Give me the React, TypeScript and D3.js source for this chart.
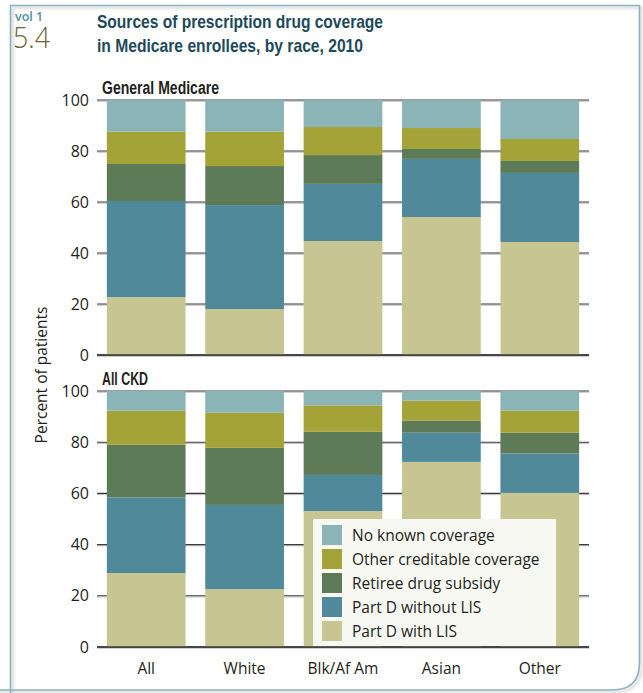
import React from "react";
import * as d3 from "d3";

const categories = ["All", "White", "Blk/Af Am", "Asian", "Other"];
const seriesNames = [
  "Part D with LIS",
  "Part D without LIS",
  "Retiree drug subsidy",
  "Other creditable coverage",
  "No known coverage",
];
const seriesColors = ["#c7c692", "#50899a", "#5e7b58", "#a3a337", "#8bb4b7"];

// General Medicare (percent, bottom to top)
const gmWithLIS = [22.7, 18.0, 44.7, 54.1, 44.3];
const gmWithoutLIS = [37.7, 40.8, 22.4, 22.8, 27.1];
const gmRetiree = [14.5, 15.3, 11.3, 3.9, 4.7];
const gmOther = [12.7, 13.5, 11.0, 8.2, 8.6];
const gmNoKnown = [12.4, 12.4, 10.6, 11.0, 15.3];

// All CKD
const ckdWithLIS = [28.9, 22.6, 53.1, 72.3, 60.2];
const ckdWithoutLIS = [29.5, 32.9, 14.1, 11.4, 15.4];
const ckdRetiree = [20.6, 22.3, 16.9, 4.7, 8.1];
const ckdOther = [13.3, 13.7, 10.3, 7.8, 8.6];
const ckdNoKnown = [7.7, 8.5, 5.6, 3.8, 7.7];

const yTicks = [0, 20, 40, 60, 80, 100];

const FONT = "'Open Sans', 'Noto Sans', sans-serif";
const TITLE_FONT = "'Liberation Sans', Arial, sans-serif";

type Panel = { title: string; titleLen: number; top: number; bottom: number; data: number[][] };

const panels: Panel[] = [
  { title: "General Medicare", titleLen: 117, top: 100, bottom: 355, data: [gmWithLIS, gmWithoutLIS, gmRetiree, gmOther, gmNoKnown] },
  { title: "All CKD", titleLen: 46, top: 391, bottom: 647, data: [ckdWithLIS, ckdWithoutLIS, ckdRetiree, ckdOther, ckdNoKnown] },
];

export default function App() {
  const W = 643;
  const H = 693;
  const x = d3.scaleBand<string>().domain(categories).range([97, 589]).paddingInner(0.2).paddingOuter(0.1);

  return (
    <svg width={W} height={H} style={{ position: "absolute", left: 0, top: 0 }}>
      <defs>
        <filter id="sh" x="-5%" y="-5%" width="110%" height="110%">
          <feDropShadow dx="2" dy="2" stdDeviation="1.5" floodColor="#999" floodOpacity="0.6" />
        </filter>
      </defs>
      <rect x={0} y={0} width={W} height={H} fill="#fff" />
      <path
        d={`M10.5,${H + 10} L10.5,5.5 L639.5,5.5 L639.5,${H - 30} Q639.5,${H - 3} 612,${H - 3} L-10,${H - 3}`}
        fill="none"
        stroke="#8ab5bb"
        strokeWidth={1.6}
        filter="url(#sh)"
      />
      <text x={15} y={21} fontFamily={FONT} fontWeight={600} fontSize={13} fill="#4f8f9a" textLength={28} lengthAdjust="spacingAndGlyphs">vol 1</text>
      <text x={13} y={48} fontFamily={FONT} fontWeight={300} fontSize={29} fill="#6b6630" textLength={37} lengthAdjust="spacingAndGlyphs">5.4</text>
      <text fontFamily={TITLE_FONT} fontWeight="bold" fontSize={18.5} fill="#1d4a5a">
        <tspan x={97} y={28} textLength={286} lengthAdjust="spacingAndGlyphs">Sources of prescription drug coverage</tspan>
        <tspan x={97} y={52} textLength={266} lengthAdjust="spacingAndGlyphs">in Medicare enrollees, by race, 2010</tspan>
      </text>

      {panels.map((p, pi) => {
        const y = d3.scaleLinear().domain([0, 100]).range([p.bottom, p.top]);
        const stacked = d3.stack<number>().keys(d3.range(5).map(String)).value((i, k) => p.data[+k][i])(d3.range(5));
        return (
          <g key={pi}>
            <text x={102} y={p.top - 6} fontFamily={TITLE_FONT} fontWeight="bold" fontSize={18} fill="#231f20" textLength={p.titleLen} lengthAdjust="spacingAndGlyphs">{p.title}</text>
            {yTicks.map((t) => (
              <g key={t}>
                <line x1={97} x2={589} y1={y(t) + 1.2} y2={y(t) + 1.2} stroke="#bbb" strokeWidth={1} />
                <line x1={97} x2={589} y1={y(t)} y2={y(t)} stroke="#3a3a3a" strokeWidth={t === 0 ? 1.6 : 1.1} />
                <text x={89} y={y(t) + 5.5} textAnchor="end" fontFamily={FONT} fontSize={16} fill="#231f20">{t}</text>
              </g>
            ))}
            {stacked.map((s, si) => (
              <g key={si} fill={seriesColors[si]}>
                {s.map((d, ci) => (
                  <rect key={ci} x={x(categories[ci])} width={x.bandwidth()} y={y(d[1])} height={y(d[0]) - y(d[1])} />
                ))}
              </g>
            ))}
            <line x1={97} x2={589} y1={y(0)} y2={y(0)} stroke="#3a3a3a" strokeWidth={1.6} />
          </g>
        );
      })}

      {/* Legend */}
      <g>
        <rect x={313} y={519} width={243} height={127} fill="#f7f8f2" />
        {seriesNames
          .slice()
          .reverse()
          .map((name, i) => (
            <g key={name}>
              <rect x={322} y={525 + i * 24} width={20} height={20} fill={seriesColors[4 - i]} />
              <text x={352} y={541 + i * 24} fontFamily={FONT} fontSize={15.5} fill="#231f20">{name}</text>
            </g>
          ))}
      </g>

      {categories.map((c) => (
        <text key={c} x={(x(c) ?? 0) + x.bandwidth() / 2} y={674} textAnchor="middle" fontFamily={FONT} fontSize={15.5} fill="#231f20">{c}</text>
      ))}
      <text transform="translate(47,375) rotate(-90)" textAnchor="middle" fontFamily={FONT} fontSize={15.5} fill="#231f20">Percent of patients</text>
    </svg>
  );
}
